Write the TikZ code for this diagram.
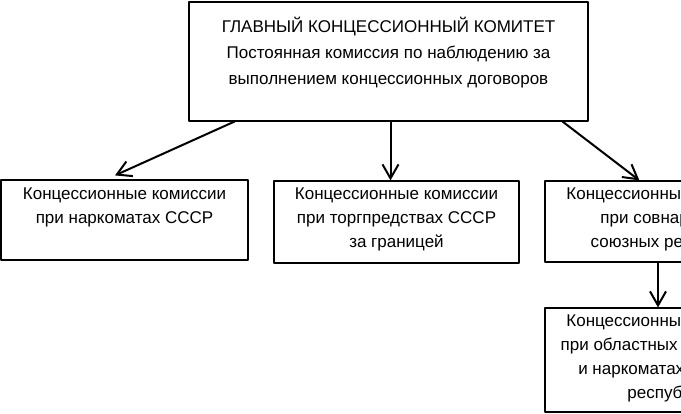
\documentclass[tikz,border=0pt]{standalone}
\usepackage{fontspec}
\setmainfont{Liberation Sans}
\usepackage{tikz}
\usetikzlibrary{arrows.meta,positioning}

\begin{document}
\begin{tikzpicture}[line cap=round,line join=round,x=1pt,y=-1pt,
  box/.style={draw,line width=1.2pt,inner sep=0pt},
  txt/.style={anchor=north,align=center,inner sep=0pt,font=\fontsize{17}{24}\selectfont},
  arr/.style={line width=2pt,-{Straight Barb[length=14pt,width=16pt,line width=2pt]}}]

\useasboundingbox (0,0) rectangle (681,414);
\fill[white] (0,0) rectangle (681,414);
\clip (0,0) rectangle (681,414);

% boxes
\node[box,minimum width=399pt,minimum height=119pt] (gkk) at (388.5,61.5) {};
\node[box,minimum width=247pt,minimum height=80pt] (nark) at (124.5,220) {};
\node[box,minimum width=245pt,minimum height=82pt] (torg) at (396.5,222) {};
\node[box,minimum width=246pt,minimum height=81pt] (sovnark) at (668,221.5) {};
\node[box,minimum width=246pt,minimum height=104pt] (oblisp) at (668,360) {};

% texts
\node[txt,font=\fontsize{17}{26}\selectfont] (gkk-txt) at (388.5,17) {ГЛАВНЫЙ КОНЦЕССИОННЫЙ КОМИТЕТ\\Постоянная комиссия по наблюдению за\\выполнением концессионных договоров};
\node[txt] (nark-txt) at (124.5,188) {Концессионные комиссии\\при наркоматах СССР};
\node[txt] (torg-txt) at (396.5,188) {Концессионные комиссии\\при торгпредствах СССР\\за границей};
\node[txt] (sovnark-txt) at (668,188) {Концессионные комиссии\\при совнаркомах\\союзных республик};
\node[txt] (oblisp-txt) at (668,315) {Концессионные комиссии\\при областных исполкомах\\и наркоматах союзных\\республик};

% arrows
\draw[arr] ([xshift=46pt]gkk.south west) -- ([xshift=-9.5pt,yshift=4pt]nark.north);
\draw[arr] ([xshift=2pt]gkk.south) -- ([xshift=2pt]gkk.south |- torg.north);
\draw[arr] ([xshift=-26pt]gkk.south east) -- ([xshift=95pt]sovnark.north west);
\draw[arr] ([xshift=-10pt]sovnark.south) -- ([xshift=-10pt]sovnark.south |- oblisp.north);

\end{tikzpicture}
\end{document}
